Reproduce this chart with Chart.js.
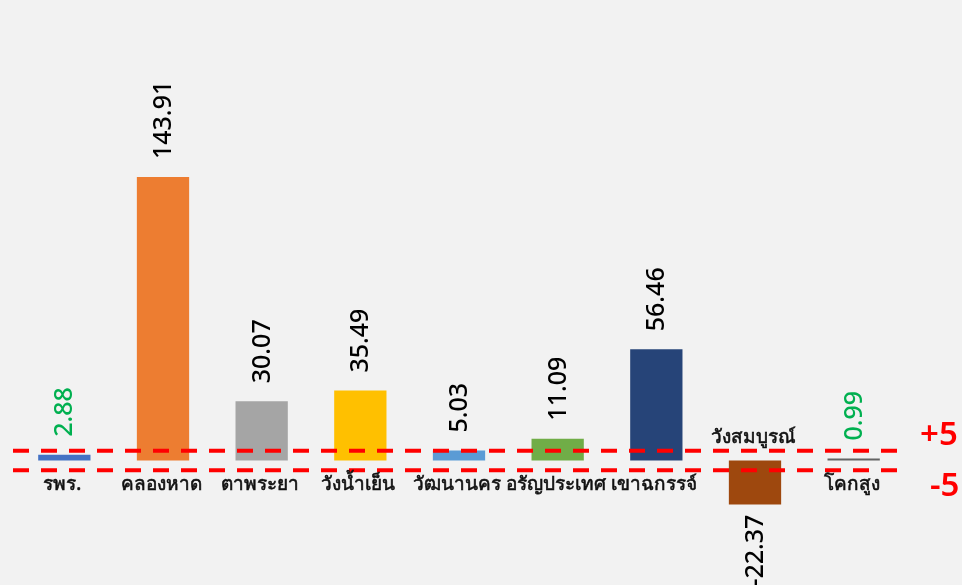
<!DOCTYPE html>
<html>
<head>
<meta charset="utf-8">
<script src="https://cdn.jsdelivr.net/npm/chart.js@4/dist/chart.umd.min.js"></script>
<style>
html,body{margin:0;padding:0;background:#f2f2f2;}
canvas{display:block;}
</style>
</head>
<body>
<canvas id="c" width="962" height="585"></canvas>
<script>
const categories = ['รพร.', 'คลองหาด', 'ตาพระยา', 'วังน้ำเย็น', 'วัฒนานคร', 'อรัญประเทศ', 'เขาฉกรรจ์', 'วังสมบูรณ์', 'โคกสูง'];
const values = [2.88, 143.91, 30.07, 35.49, 5.03, 11.09, 56.46, -22.37, 0.99];
const barColors = ['#4472c4', '#ed7d31', '#a5a5a5', '#ffc000', '#5b9bd5', '#70ad47', '#264478', '#9e480e', '#636363'];
const valueLabelColors = ['#00b050', '#000000', '#000000', '#000000', '#000000', '#000000', '#000000', '#000000', '#00b050'];
const thresholds = [5, -5];
const thresholdLabels = ['+5', '-5'];

const FONT = "'Noto Sans', 'Liberation Sans', 'DejaVu Sans', sans-serif";

const labelPlugin = {
  id: 'labels',
  afterDatasetsDraw(chart) {
    const ctx = chart.ctx;
    const xs = chart.scales.x, ys = chart.scales.y;
    const zero = ys.getPixelForValue(0);
    // threshold lines
    ctx.save();
    ctx.strokeStyle = '#ff0000';
    ctx.lineWidth = 4;
    ctx.setLineDash([16, 12]);
    thresholds.forEach((t) => {
      const y = ys.getPixelForValue(t);
      ctx.beginPath();
      ctx.moveTo(13, y);
      ctx.lineTo(897, y);
      ctx.stroke();
    });
    ctx.setLineDash([]);
    ctx.fillStyle = '#ff0000';
    ctx.font = '600 33px ' + FONT;
    ctx.textBaseline = 'middle';
    ctx.textAlign = 'left';
    ctx.fillText(thresholdLabels[0], 920, ys.getPixelForValue(thresholds[0]) - 15);
    ctx.fillText(thresholdLabels[1], 930, ys.getPixelForValue(thresholds[1]) + 16);
    ctx.restore();

    values.forEach((v, i) => {
      const x = xs.getPixelForValue(i);
      const yv = ys.getPixelForValue(v);
      // value labels rotated
      ctx.save();
      ctx.fillStyle = valueLabelColors[i];
      ctx.font = '500 25px ' + FONT;
      ctx.textBaseline = 'middle';
      if (v >= 0) {
        ctx.translate(x + 1, Math.min(yv, zero) - 18);
        ctx.rotate(-Math.PI / 2);
        ctx.textAlign = 'left';
      } else {
        ctx.translate(x + 1, yv + 10);
        ctx.rotate(-Math.PI / 2);
        ctx.textAlign = 'right';
      }
      ctx.fillText(v.toFixed(2), 0, 0);
      ctx.restore();
      // category labels
      ctx.save();
      ctx.fillStyle = '#111111';
      ctx.strokeStyle = '#111111';
      ctx.lineWidth = 0.6;
      ctx.font = '19px ' + FONT;
      ctx.textAlign = 'center';
      ctx.textBaseline = 'middle';
      const ly = v >= 0 ? zero + 24 : zero - 23;
      ctx.fillText(categories[i], x - 2, ly);
      ctx.strokeText(categories[i], x - 2, ly);
      ctx.restore();
    });
  }
};

new Chart(document.getElementById('c'), {
  type: 'bar',
  data: {
    labels: categories,
    datasets: [{
      data: values,
      backgroundColor: barColors,
      borderWidth: 0,
      barPercentage: 0.53,
      categoryPercentage: 1
    }]
  },
  options: {
    responsive: false,
    animation: false,
    layout: { padding: { left: 15, right: 59, top: 0, bottom: 0 } },
    plugins: { legend: { display: false }, tooltip: { enabled: false } },
    scales: {
      x: { display: false },
      y: { display: false, min: -63.2, max: 233.8 }
    }
  },
  plugins: [labelPlugin]
});
</script>
</body>
</html>
